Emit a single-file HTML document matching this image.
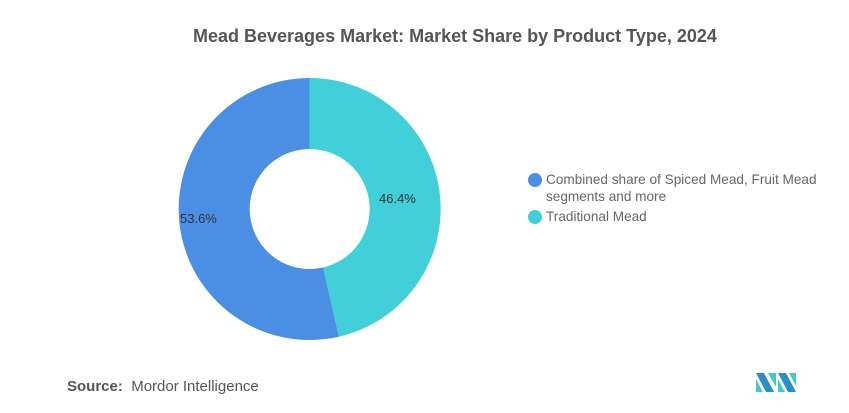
<!DOCTYPE html>
<html><head><meta charset="utf-8"><style>
body{margin:0;width:849px;height:413px;background:#fff;overflow:hidden;font-family:"Liberation Sans",sans-serif;position:relative}
.t{position:absolute;top:26px;left:193px;white-space:nowrap;font-size:18px;font-weight:bold;color:#555}
.lg{position:absolute;left:530px;font-size:13.6px;color:#666;line-height:17px;white-space:nowrap}
.dot{position:absolute;left:-2px;width:14px;height:14px;border-radius:50%}
.src{position:absolute;left:67px;top:378px;font-size:15px;color:#555}
</style></head><body>
<div class="t">Mead Beverages Market: Market Share by Product Type, 2024</div>
<svg width="849" height="413" style="position:absolute;left:0;top:0">
<path d="M309.5 78 A131 131 0 0 1 338.9 336.7 L323 267.5 A60 60 0 0 0 309.5 149 Z" fill="#41d0da"/>
<path d="M338.9 336.7 A131 131 0 1 1 309.5 78 L309.5 149 A60 60 0 1 0 323 267.5 Z" fill="#4a8fe3"/>
<text x="180" y="223" font-size="13" fill="#333" font-family="Liberation Sans">53.6%</text>
<text x="379" y="203" font-size="13" fill="#333" font-family="Liberation Sans">46.4%</text>
<g transform="translate(756,373)">
<polygon points="0,0 8,0 18,19 10,19" fill="#2a8ec8"/>
<polygon points="0,6 7,19 0,19" fill="#41c9d2"/>
<polygon points="12,0 20,0 20,14" fill="#41c9d2"/>
<polygon points="22,0 30,0 40,19 32,19" fill="#2a8ec8"/>
<polygon points="22,6 29,19 22,19" fill="#41c9d2"/>
<polygon points="33,0 40,0 40,13" fill="#41c9d2"/>
</g>
</svg>
<div class="lg" style="top:171px;padding-left:16px"><span class="dot" style="background:#4a8fe3;top:2px"></span>Combined share of Spiced Mead, Fruit Mead<br>segments and more</div>
<div class="lg" style="top:208px;padding-left:16px"><span class="dot" style="background:#41d0da;top:2px"></span>Traditional Mead</div>
<div class="src"><b>Source:</b>&nbsp; Mordor Intelligence</div>
</body></html>
